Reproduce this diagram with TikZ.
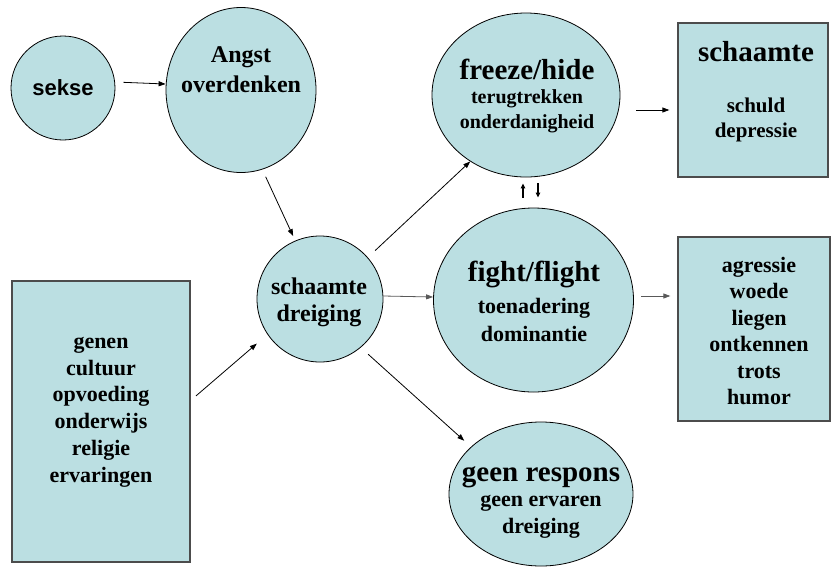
\documentclass[tikz,border=0pt]{standalone}
\usepackage{fontspec}
\setmainfont{Liberation Serif}
\newfontfamily\arialfont{Liberation Sans}
\usetikzlibrary{shapes.geometric,arrows.meta}
\definecolor{shamefill}{RGB}{187,223,226}

\begin{document}
\begin{tikzpicture}[x=1pt, y=-1pt,
    bubble/.style={ellipse, draw=black, line width=0.8pt, fill=shamefill, inner sep=0pt},
    panel/.style={rectangle, draw=black!70, line width=1.3pt, fill=shamefill, inner sep=0pt},
    arr/.style={-{Triangle[length=7pt,width=5pt]}, line width=0.8pt},
    tiny/.style={-{Triangle[length=5pt,width=4.5pt]}, line width=1.2pt},
    head/.style={font=\rmfamily\bfseries\fontsize{29}{32}\selectfont},
    sub/.style 2 args={font=\rmfamily\bfseries\fontsize{#1}{#2}\selectfont, align=center}]
  \useasboundingbox (0,0) rectangle (831,566);
  % shapes
  \node[bubble, minimum width=104pt, minimum height=104pt] (sekse) at (63,88) {};
  \node[bubble, minimum width=150pt, minimum height=165pt] (angst) at (241,90) {};
  \node[bubble, minimum width=126pt, minimum height=126pt] (dreig) at (320,299) {};
  \node[bubble, minimum width=188pt, minimum height=164pt] (freeze) at (526,95) {};
  \node[bubble, minimum width=200pt, minimum height=184pt] (fight) at (533.5,300) {};
  \node[bubble, minimum width=184pt, minimum height=144pt] (geen) at (541,494) {};
  \node[panel, minimum width=150pt, minimum height=154pt] (schaam) at (753,100) {};
  \node[panel, minimum width=152pt, minimum height=184pt] (aggr) at (754,329) {};
  \node[panel, minimum width=178pt, minimum height=281pt] (genen) at (101,421.5) {};
  % texts
  \node[font=\arialfont\bfseries\fontsize{22}{26}\selectfont] (sekse-t) at (63,88) {sekse};
  \node[sub={24}{30}] (angst-t) at (241,70) {Angst\\overdenken};
  \node[sub={24}{27}] (dreig-t) at (319,302) {schaamte\\dreiging};
  \node[head] (freeze-h) at (527,69) {freeze/hide};
  \node[sub={20}{25}] (freeze-s) at (527,111) {terugtrekken\\onderdanigheid};
  \node[head] (fight-h) at (534,274) {fight/flight};
  \node[sub={22}{28}] (fight-s) at (534,320) {toenadering\\dominantie};
  \node[head] (geen-h) at (541,477) {geen respons};
  \node[sub={22}{27}] (geen-s) at (541,517) {geen ervaren\\dreiging};
  \node[head] (schaam-h) at (756,52) {schaamte};
  \node[sub={21}{25}] (schaam-s) at (756,119.5) {schuld\\depressie};
  \node[sub={22}{26.4}] (aggr-t) at (759,331) {agressie\\woede\\liegen\\ontkennen\\trots\\humor};
  \node[sub={22}{26.8}] (genen-t) at (101,412) {genen\\cultuur\\opvoeding\\onderwijs\\religie\\ervaringen};
  % connectors
  \draw[arr, shorten <=8pt] ([yshift=6pt]sekse.east) -- ([yshift=6pt]angst.west);
  \draw[arr, shorten <=8pt, shorten >=5pt] (angst.-75) -- (dreig.113);
  \draw[arr, shorten <=7pt, shorten >=14pt] ([yshift=21pt]genen.east) -- (dreig.214);
  \draw[arr, shorten <=10pt] (dreig.41) -- (freeze.230.7);
  \draw[arr, draw=black!65] ([yshift=3pt]dreig.east) -- ([yshift=3pt]fight.west);
  \draw[arr, shorten <=10pt, shorten >=9pt] (dreig.-50) -- (geen.146.8);
  \draw[arr, shorten <=16pt, shorten >=8pt] ([yshift=-15pt]freeze.east) -- ([yshift=-10pt]schaam.west);
  \draw[arr, draw=black!65, shorten <=7.5pt, shorten >=7pt] ([yshift=4pt]fight.east) -- ([yshift=33pt]aggr.west);
  \draw[tiny, shorten <=10pt, shorten >=6pt] ([xshift=-10.5pt]fight.north) -- ([xshift=-3pt]freeze.south);
  \draw[tiny, shorten <=6pt, shorten >=10pt] ([xshift=12pt]freeze.south) -- ([xshift=4.5pt]fight.north);
\end{tikzpicture}
\end{document}
